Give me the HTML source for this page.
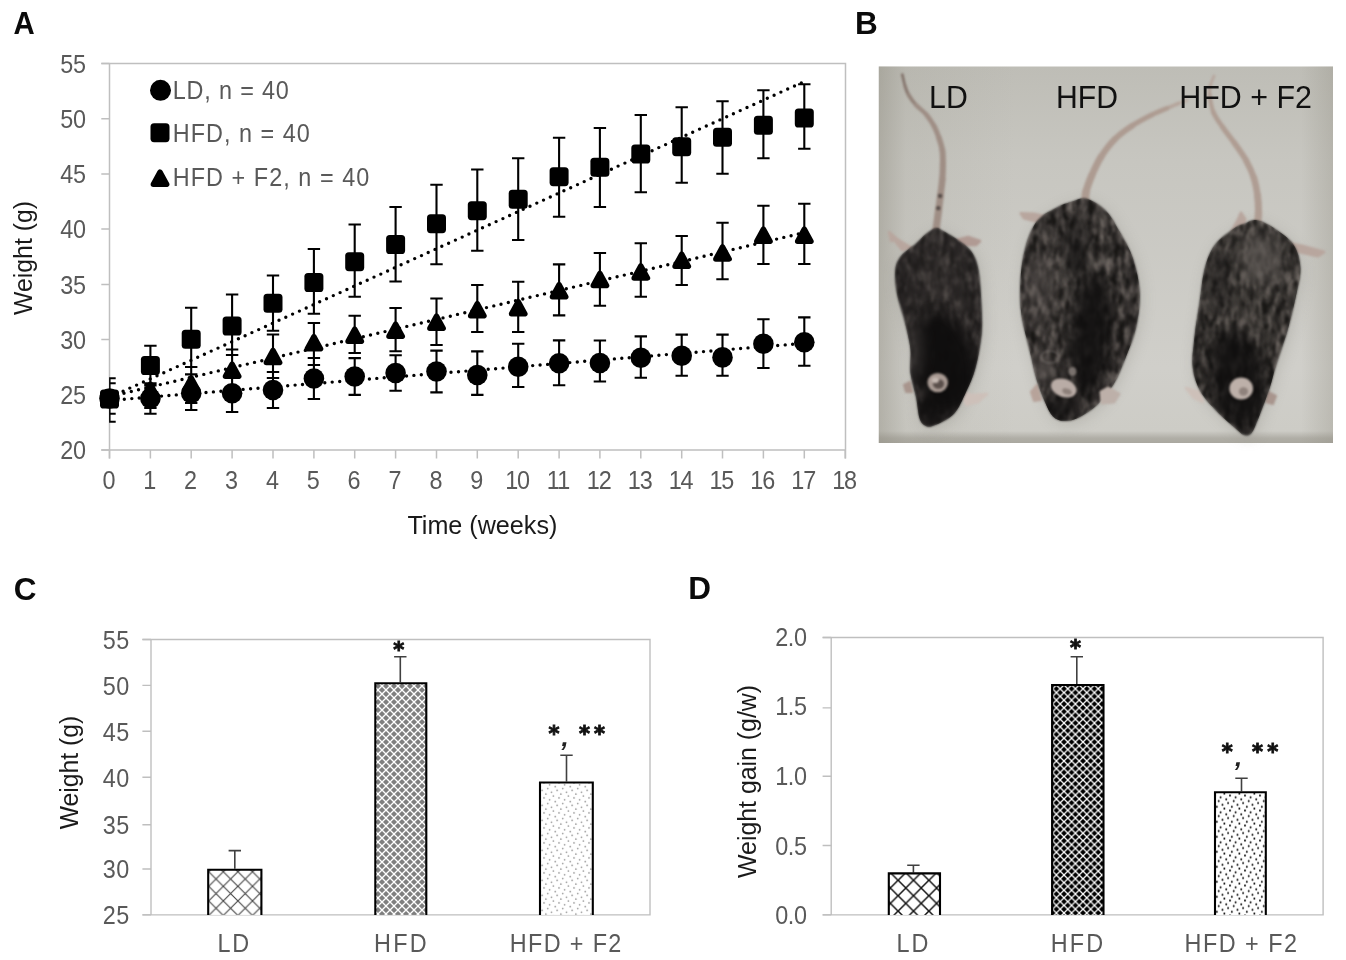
<!DOCTYPE html>
<html lang="en"><head><meta charset="utf-8"><title>Figure</title>
<style>html,body{margin:0;padding:0;background:#fff}svg{display:block}text{font-family:"Liberation Sans", Arial, sans-serif}</style>
</head><body>
<svg width="1346" height="960" viewBox="0 0 1346 960">
<rect width="1346" height="960" fill="#fff"/>
<defs>
<pattern id="pX" width="14.6" height="14.6" patternUnits="userSpaceOnUse" x="4.3" y="10.3"><rect width="14.6" height="14.6" fill="#fff"/><path d="M-1 -1L15.6 15.6M-1 15.6L15.6 -1" stroke="#444" stroke-width="1.1"/></pattern>
<pattern id="pX2" width="15.4" height="15.4" patternUnits="userSpaceOnUse" x="4.9" y="2.5"><rect width="15.4" height="15.4" fill="#fff"/><path d="M-1 -1L16.4 16.4M-1 16.4L16.4 -1" stroke="#111" stroke-width="1.5"/></pattern>
<pattern id="pG" width="8" height="8" patternUnits="userSpaceOnUse" x="2" y="2"><rect width="8" height="8" fill="#7f7f7f"/><path d="M-1 -1L9 9M-1 9L9 -1" stroke="#fff" stroke-width="1.35"/></pattern>
<pattern id="pK" width="7.6" height="7.6" patternUnits="userSpaceOnUse" x="0" y="1"><rect width="7.6" height="7.6" fill="#000"/><path d="M-1 -1L8.6 8.6M-1 8.6L8.6 -1" stroke="#fff" stroke-width="1.3"/></pattern>
<pattern id="pD" width="15" height="15" patternUnits="userSpaceOnUse" x="3.1" y="1.9"><rect width="15" height="15" fill="#fff"/><g fill="#9d9d9d"><circle cx="0.94" cy="0.94" r="0.85"/><circle cx="6.56" cy="2.81" r="0.85"/><circle cx="12.19" cy="4.69" r="0.85"/><circle cx="4.69" cy="6.56" r="0.85"/><circle cx="14.06" cy="8.44" r="0.85"/><circle cx="8.44" cy="10.31" r="0.85"/><circle cx="2.81" cy="12.19" r="0.85"/><circle cx="10.31" cy="14.06" r="0.85"/></g></pattern>
<pattern id="pDk" width="15" height="15" patternUnits="userSpaceOnUse" x="14.06" y="14.56"><rect width="15" height="15" fill="#fff"/><g fill="#0a0a0a"><circle cx="0.94" cy="0.94" r="1.0"/><circle cx="6.56" cy="2.81" r="1.0"/><circle cx="12.19" cy="4.69" r="1.0"/><circle cx="4.69" cy="6.56" r="1.0"/><circle cx="14.06" cy="8.44" r="1.0"/><circle cx="8.44" cy="10.31" r="1.0"/><circle cx="2.81" cy="12.19" r="1.0"/><circle cx="10.31" cy="14.06" r="1.0"/></g></pattern>
</defs>
<text x="13.4" y="34.1" font-size="31.5" fill="#0a0a0a" font-weight="bold" textLength="21.2" lengthAdjust="spacingAndGlyphs">A</text>
<text x="855.1" y="34.3" font-size="31.5" fill="#0a0a0a" font-weight="bold">B</text>
<text x="13.7" y="600.3" font-size="31.5" fill="#0a0a0a" font-weight="bold">C</text>
<text x="688.2" y="598.9" font-size="31.5" fill="#0a0a0a" font-weight="bold">D</text>
<g id="panelA">
<path d="M101.3 63.5H845.5V458.5" fill="none" stroke="#bfbfbf" stroke-width="1.5"/>
<path d="M109.5 63.5V458.5M101.3 450.0H845.5" fill="none" stroke="#bfbfbf" stroke-width="1.5"/>
<text transform="translate(86.1 459.2) scale(0.9 1)" font-size="26" fill="#595959" text-anchor="end" textLength="28.8" lengthAdjust="spacing">20</text>
<text transform="translate(86.1 404.0) scale(0.9 1)" font-size="26" fill="#595959" text-anchor="end" textLength="28.8" lengthAdjust="spacing">25</text>
<text transform="translate(86.1 348.8) scale(0.9 1)" font-size="26" fill="#595959" text-anchor="end" textLength="28.8" lengthAdjust="spacing">30</text>
<text transform="translate(86.1 293.6) scale(0.9 1)" font-size="26" fill="#595959" text-anchor="end" textLength="28.8" lengthAdjust="spacing">35</text>
<text transform="translate(86.1 238.3) scale(0.9 1)" font-size="26" fill="#595959" text-anchor="end" textLength="28.8" lengthAdjust="spacing">40</text>
<text transform="translate(86.1 183.1) scale(0.9 1)" font-size="26" fill="#595959" text-anchor="end" textLength="28.8" lengthAdjust="spacing">45</text>
<text transform="translate(86.1 127.9) scale(0.9 1)" font-size="26" fill="#595959" text-anchor="end" textLength="28.8" lengthAdjust="spacing">50</text>
<text transform="translate(86.1 72.7) scale(0.9 1)" font-size="26" fill="#595959" text-anchor="end" textLength="28.8" lengthAdjust="spacing">55</text>
<text transform="translate(108.9 488.7) scale(0.9 1)" font-size="26" fill="#595959" text-anchor="middle">0</text>
<text transform="translate(149.8 488.7) scale(0.9 1)" font-size="26" fill="#595959" text-anchor="middle">1</text>
<text transform="translate(190.6 488.7) scale(0.9 1)" font-size="26" fill="#595959" text-anchor="middle">2</text>
<text transform="translate(231.5 488.7) scale(0.9 1)" font-size="26" fill="#595959" text-anchor="middle">3</text>
<text transform="translate(272.4 488.7) scale(0.9 1)" font-size="26" fill="#595959" text-anchor="middle">4</text>
<text transform="translate(313.2 488.7) scale(0.9 1)" font-size="26" fill="#595959" text-anchor="middle">5</text>
<text transform="translate(354.1 488.7) scale(0.9 1)" font-size="26" fill="#595959" text-anchor="middle">6</text>
<text transform="translate(395.0 488.7) scale(0.9 1)" font-size="26" fill="#595959" text-anchor="middle">7</text>
<text transform="translate(435.9 488.7) scale(0.9 1)" font-size="26" fill="#595959" text-anchor="middle">8</text>
<text transform="translate(476.7 488.7) scale(0.9 1)" font-size="26" fill="#595959" text-anchor="middle">9</text>
<text transform="translate(517.6 488.7) scale(0.9 1)" font-size="26" fill="#595959" text-anchor="middle" textLength="27.7" lengthAdjust="spacing">10</text>
<text transform="translate(558.5 488.7) scale(0.9 1)" font-size="26" fill="#595959" text-anchor="middle" textLength="25.9" lengthAdjust="spacing">11</text>
<text transform="translate(599.3 488.7) scale(0.9 1)" font-size="26" fill="#595959" text-anchor="middle" textLength="27.7" lengthAdjust="spacing">12</text>
<text transform="translate(640.2 488.7) scale(0.9 1)" font-size="26" fill="#595959" text-anchor="middle" textLength="27.7" lengthAdjust="spacing">13</text>
<text transform="translate(681.1 488.7) scale(0.9 1)" font-size="26" fill="#595959" text-anchor="middle" textLength="27.7" lengthAdjust="spacing">14</text>
<text transform="translate(721.9 488.7) scale(0.9 1)" font-size="26" fill="#595959" text-anchor="middle" textLength="27.7" lengthAdjust="spacing">15</text>
<text transform="translate(762.8 488.7) scale(0.9 1)" font-size="26" fill="#595959" text-anchor="middle" textLength="27.7" lengthAdjust="spacing">16</text>
<text transform="translate(803.7 488.7) scale(0.9 1)" font-size="26" fill="#595959" text-anchor="middle" textLength="27.7" lengthAdjust="spacing">17</text>
<text transform="translate(844.6 488.7) scale(0.9 1)" font-size="26" fill="#595959" text-anchor="middle" textLength="27.7" lengthAdjust="spacing">18</text>
<path d="M101.3 450.0H109.5M101.3 394.8H109.5M101.3 339.6H109.5M101.3 284.4H109.5M101.3 229.1H109.5M101.3 173.9H109.5M101.3 118.7H109.5M101.3 63.5H109.5M109.5 450.0V458.5M150.4 450.0V458.5M191.2 450.0V458.5M232.1 450.0V458.5M273.0 450.0V458.5M313.9 450.0V458.5M354.7 450.0V458.5M395.6 450.0V458.5M436.5 450.0V458.5M477.3 450.0V458.5M518.2 450.0V458.5M559.1 450.0V458.5M599.9 450.0V458.5M640.8 450.0V458.5M681.7 450.0V458.5M722.5 450.0V458.5M763.4 450.0V458.5M804.3 450.0V458.5M845.2 450.0V458.5" fill="none" stroke="#bfbfbf" stroke-width="1.5"/>
<text x="482.4" y="534.3" font-size="26" fill="#1a1a1a" text-anchor="middle" textLength="150" lengthAdjust="spacingAndGlyphs">Time (weeks)</text>
<text transform="translate(32.4,258) rotate(-90)" font-size="26" fill="#1a1a1a" text-anchor="middle" textLength="114" lengthAdjust="spacingAndGlyphs">Weight (g)</text>
<circle cx="160.5" cy="90.3" r="10.5" fill="#000"/>
<rect x="150.5" y="123.2" width="19" height="19" rx="3.6" fill="#000"/>
<path d="M160.0 172.1L166.7 184.3H153.3Z" fill="#000" stroke="#000" stroke-width="5.4" stroke-linejoin="round"/>
<text transform="translate(172.8 98.9) scale(0.9 1)" font-size="26" fill="#595959" textLength="128.9" lengthAdjust="spacing">LD, n = 40</text>
<text transform="translate(172.8 142.2) scale(0.9 1)" font-size="26" fill="#595959" textLength="152.2" lengthAdjust="spacing">HFD, n = 40</text>
<text transform="translate(172.8 185.9) scale(0.9 1)" font-size="26" fill="#595959" textLength="218.3" lengthAdjust="spacing">HFD + F2, n = 40</text>
<path d="M109.5 400.4h0M116.9 399.8h0M124.3 399.2h0M131.8 398.6h0M139.2 398.0h0M146.6 397.3h0M154.0 396.7h0M161.5 396.1h0M168.9 395.5h0M176.3 394.9h0M183.7 394.3h0M191.2 393.7h0M198.6 393.1h0M206.0 392.5h0M213.4 391.9h0M220.9 391.2h0M228.3 390.6h0M235.7 390.0h0M243.1 389.4h0M250.6 388.8h0M258.0 388.2h0M265.4 387.6h0M272.8 387.0h0M280.3 386.4h0M287.7 385.8h0M295.1 385.1h0M302.5 384.5h0M310.0 383.9h0M317.4 383.3h0M324.8 382.7h0M332.2 382.1h0M339.7 381.5h0M347.1 380.9h0M354.5 380.3h0M361.9 379.7h0M369.4 379.0h0M376.8 378.4h0M384.2 377.8h0M391.6 377.2h0M399.1 376.6h0M406.5 376.0h0M413.9 375.4h0M421.3 374.8h0M428.8 374.2h0M436.2 373.6h0M443.6 372.9h0M451.0 372.3h0M458.5 371.7h0M465.9 371.1h0M473.3 370.5h0M480.7 369.9h0M488.2 369.3h0M495.6 368.7h0M503.0 368.1h0M510.4 367.4h0M517.9 366.8h0M525.3 366.2h0M532.7 365.6h0M540.1 365.0h0M547.6 364.4h0M555.0 363.8h0M562.4 363.2h0M569.8 362.6h0M577.3 362.0h0M584.7 361.3h0M592.1 360.7h0M599.5 360.1h0M607.0 359.5h0M614.4 358.9h0M621.8 358.3h0M629.2 357.7h0M636.7 357.1h0M644.1 356.5h0M651.5 355.9h0M658.9 355.2h0M666.4 354.6h0M673.8 354.0h0M681.2 353.4h0M688.6 352.8h0M696.1 352.2h0M703.5 351.6h0M710.9 351.0h0M718.3 350.4h0M725.8 349.8h0M733.2 349.1h0M740.6 348.5h0M748.0 347.9h0M755.5 347.3h0M762.9 346.7h0M770.3 346.1h0M777.7 345.5h0M785.2 344.9h0M792.6 344.3h0M800.0 343.7h0" fill="none" stroke="#000" stroke-width="3.4" stroke-linecap="round"/>
<path d="M109.5 397.4h0M116.3 394.3h0M123.1 391.2h0M129.8 388.1h0M136.6 385.1h0M143.4 382.0h0M150.2 378.9h0M157.0 375.8h0M163.8 372.7h0M170.5 369.6h0M177.3 366.6h0M184.1 363.5h0M190.9 360.4h0M197.7 357.3h0M204.4 354.2h0M211.2 351.1h0M218.0 348.1h0M224.8 345.0h0M231.6 341.9h0M238.4 338.8h0M245.1 335.7h0M251.9 332.6h0M258.7 329.6h0M265.5 326.5h0M272.3 323.4h0M279.0 320.3h0M285.8 317.2h0M292.6 314.1h0M299.4 311.1h0M306.2 308.0h0M313.0 304.9h0M319.7 301.8h0M326.5 298.7h0M333.3 295.6h0M340.1 292.6h0M346.9 289.5h0M353.6 286.4h0M360.4 283.3h0M367.2 280.2h0M374.0 277.1h0M380.8 274.1h0M387.6 271.0h0M394.3 267.9h0M401.1 264.8h0M407.9 261.7h0M414.7 258.6h0M421.5 255.6h0M428.2 252.5h0M435.0 249.4h0M441.8 246.3h0M448.6 243.2h0M455.4 240.1h0M462.2 237.1h0M468.9 234.0h0M475.7 230.9h0M482.5 227.8h0M489.3 224.7h0M496.1 221.6h0M502.9 218.6h0M509.6 215.5h0M516.4 212.4h0M523.2 209.3h0M530.0 206.2h0M536.8 203.1h0M543.5 200.1h0M550.3 197.0h0M557.1 193.9h0M563.9 190.8h0M570.7 187.7h0M577.5 184.6h0M584.2 181.6h0M591.0 178.5h0M597.8 175.4h0M604.6 172.3h0M611.4 169.2h0M618.1 166.1h0M624.9 163.1h0M631.7 160.0h0M638.5 156.9h0M645.3 153.8h0M652.1 150.7h0M658.8 147.6h0M665.6 144.6h0M672.4 141.5h0M679.2 138.4h0M686.0 135.3h0M692.7 132.2h0M699.5 129.1h0M706.3 126.0h0M713.1 123.0h0M719.9 119.9h0M726.7 116.8h0M733.4 113.7h0M740.2 110.6h0M747.0 107.5h0M753.8 104.5h0M760.6 101.4h0M767.3 98.3h0M774.1 95.2h0M780.9 92.1h0M787.7 89.0h0M794.5 86.0h0M801.3 82.9h0" fill="none" stroke="#000" stroke-width="3.4" stroke-linecap="round"/>
<path d="M109.5 396.6h0M116.8 394.9h0M124.0 393.2h0M131.3 391.5h0M138.5 389.8h0M145.8 388.0h0M153.0 386.3h0M160.3 384.6h0M167.5 382.9h0M174.8 381.2h0M182.0 379.5h0M189.3 377.8h0M196.5 376.1h0M203.8 374.4h0M211.0 372.6h0M218.3 370.9h0M225.5 369.2h0M232.8 367.5h0M240.0 365.8h0M247.3 364.1h0M254.5 362.4h0M261.8 360.7h0M269.0 358.9h0M276.3 357.2h0M283.5 355.5h0M290.8 353.8h0M298.0 352.1h0M305.3 350.4h0M312.5 348.7h0M319.8 347.0h0M327.0 345.3h0M334.3 343.5h0M341.5 341.8h0M348.8 340.1h0M356.0 338.4h0M363.3 336.7h0M370.5 335.0h0M377.8 333.3h0M385.0 331.6h0M392.3 329.9h0M399.5 328.1h0M406.8 326.4h0M414.0 324.7h0M421.3 323.0h0M428.5 321.3h0M435.8 319.6h0M443.0 317.9h0M450.3 316.2h0M457.5 314.4h0M464.8 312.7h0M472.0 311.0h0M479.3 309.3h0M486.5 307.6h0M493.8 305.9h0M501.0 304.2h0M508.3 302.5h0M515.5 300.8h0M522.8 299.0h0M530.0 297.3h0M537.3 295.6h0M544.5 293.9h0M551.8 292.2h0M559.0 290.5h0M566.3 288.8h0M573.5 287.1h0M580.8 285.4h0M588.0 283.6h0M595.3 281.9h0M602.6 280.2h0M609.8 278.5h0M617.1 276.8h0M624.3 275.1h0M631.6 273.4h0M638.8 271.7h0M646.1 270.0h0M653.3 268.2h0M660.6 266.5h0M667.8 264.8h0M675.1 263.1h0M682.3 261.4h0M689.6 259.7h0M696.8 258.0h0M704.1 256.3h0M711.3 254.5h0M718.6 252.8h0M725.8 251.1h0M733.1 249.4h0M740.3 247.7h0M747.6 246.0h0M754.8 244.3h0M762.1 242.6h0M769.3 240.9h0M776.6 239.1h0M783.8 237.4h0M791.1 235.7h0M798.3 234.0h0" fill="none" stroke="#000" stroke-width="3.4" stroke-linecap="round"/>
<clipPath id="clipA"><rect x="109.1" y="63.5" width="736.0" height="386.5"/></clipPath>
<path d="M109.5 383.2V413.8M103.3 383.2h12.4M103.3 413.8h12.4M150.4 383.25V413.75M144.2 383.25h12.4M144.2 413.75h12.4M191.2 374.4V410M185.0 374.4h12.4M185.0 410h12.4M232.1 374.5V412M225.9 374.5h12.4M225.9 412h12.4M273.0 372V408M266.8 372h12.4M266.8 408h12.4M313.9 358V399M307.7 358h12.4M307.7 399h12.4M354.7 358.1V394.9M348.5 358.1h12.4M348.5 394.9h12.4M395.6 355.3V390.7M389.4 355.3h12.4M389.4 390.7h12.4M436.5 350.6V392.4M430.3 350.6h12.4M430.3 392.4h12.4M477.3 351.4V394.9M471.1 351.4h12.4M471.1 394.9h12.4M518.2 343.75V387M512.0 343.75h12.4M512.0 387h12.4M559.1 340.4V385.3M552.9 340.4h12.4M552.9 385.3h12.4M599.9 340.5V381.5M593.7 340.5h12.4M593.7 381.5h12.4M640.8 336.4V377.8M634.6 336.4h12.4M634.6 377.8h12.4M681.7 334.6V375.7M675.5 334.6h12.4M675.5 375.7h12.4M722.5 334.6V375.7M716.3 334.6h12.4M716.3 375.7h12.4M763.4 319.2V368M757.2 319.2h12.4M757.2 368h12.4M804.3 317.4V365.8M798.1 317.4h12.4M798.1 365.8h12.4M109.5 378.2V421.8M103.3 378.2h12.4M103.3 421.8h12.4M150.4 345.75V385.4M144.2 345.75h12.4M144.2 385.4h12.4M191.2 307.75V367M185.0 307.75h12.4M185.0 367h12.4M232.1 294.5V355M225.9 294.5h12.4M225.9 355h12.4M273.0 275.5V330.8M266.8 275.5h12.4M266.8 330.8h12.4M313.9 249V313.75M307.7 249h12.4M307.7 313.75h12.4M354.7 224.5V296.75M348.5 224.5h12.4M348.5 296.75h12.4M395.6 207V281.5M389.4 207h12.4M389.4 281.5h12.4M436.5 184.75V264.25M430.3 184.75h12.4M430.3 264.25h12.4M477.3 169.5V250.75M471.1 169.5h12.4M471.1 250.75h12.4M518.2 158.25V240M512.0 158.25h12.4M512.0 240h12.4M559.1 137.7V216.7M552.9 137.7h12.4M552.9 216.7h12.4M599.9 128V207M593.7 128h12.4M593.7 207h12.4M640.8 115V192.3M634.6 115h12.4M634.6 192.3h12.4M681.7 107.3V182.7M675.5 107.3h12.4M675.5 182.7h12.4M722.5 101.3V173.7M716.3 101.3h12.4M716.3 173.7h12.4M763.4 90.3V158.3M757.2 90.3h12.4M757.2 158.3h12.4M804.3 84.3V148.7M798.1 84.3h12.4M798.1 148.7h12.4M109.5 383.2V413.8M103.3 383.2h12.4M103.3 413.8h12.4M150.4 372V408M144.2 372h12.4M144.2 408h12.4M191.2 367V403M185.0 367h12.4M185.0 403h12.4M232.1 349.5V390.5M225.9 349.5h12.4M225.9 390.5h12.4M273.0 334.5V378M266.8 334.5h12.4M266.8 378h12.4M313.9 323V365M307.7 323h12.4M307.7 365h12.4M354.7 315.75V353M348.5 315.75h12.4M348.5 353h12.4M395.6 308V351.25M389.4 308h12.4M389.4 351.25h12.4M436.5 298.5V345M430.3 298.5h12.4M430.3 345h12.4M477.3 285V332M471.1 285h12.4M471.1 332h12.4M518.2 281.75V332M512.0 281.75h12.4M512.0 332h12.4M559.1 264.4V315.4M552.9 264.4h12.4M552.9 315.4h12.4M599.9 253V305.7M593.7 253h12.4M593.7 305.7h12.4M640.8 243.3V296.7M634.6 243.3h12.4M634.6 296.7h12.4M681.7 236V285M675.5 236h12.4M675.5 285h12.4M722.5 222.7V279.3M716.3 222.7h12.4M716.3 279.3h12.4M763.4 205.7V264M757.2 205.7h12.4M757.2 264h12.4M804.3 203.7V264M798.1 203.7h12.4M798.1 264h12.4" fill="none" stroke="#000" stroke-width="2.1" clip-path="url(#clipA)"/>
<circle cx="109.5" cy="398.5" r="10.3" fill="#000"/>
<circle cx="150.4" cy="398.5" r="10.3" fill="#000"/>
<circle cx="191.2" cy="393.25" r="10.3" fill="#000"/>
<circle cx="232.1" cy="393.25" r="10.3" fill="#000"/>
<circle cx="273.0" cy="390" r="10.3" fill="#000"/>
<circle cx="313.9" cy="378.5" r="10.3" fill="#000"/>
<circle cx="354.7" cy="376.5" r="10.3" fill="#000"/>
<circle cx="395.6" cy="373" r="10.3" fill="#000"/>
<circle cx="436.5" cy="371.5" r="10.3" fill="#000"/>
<circle cx="477.3" cy="375" r="10.3" fill="#000"/>
<circle cx="518.2" cy="366.8" r="10.3" fill="#000"/>
<circle cx="559.1" cy="363.3" r="10.3" fill="#000"/>
<circle cx="599.9" cy="363" r="10.3" fill="#000"/>
<circle cx="640.8" cy="357.8" r="10.3" fill="#000"/>
<circle cx="681.7" cy="355.7" r="10.3" fill="#000"/>
<circle cx="722.5" cy="357.4" r="10.3" fill="#000"/>
<circle cx="763.4" cy="343.8" r="10.3" fill="#000"/>
<circle cx="804.3" cy="342.3" r="10.3" fill="#000"/>
<rect x="100.0" y="389.5" width="19" height="19" rx="3.6" fill="#000"/>
<rect x="140.9" y="356.0" width="19" height="19" rx="3.6" fill="#000"/>
<rect x="181.7" y="329.8" width="19" height="19" rx="3.6" fill="#000"/>
<rect x="222.6" y="316.5" width="19" height="19" rx="3.6" fill="#000"/>
<rect x="263.5" y="293.8" width="19" height="19" rx="3.6" fill="#000"/>
<rect x="304.4" y="273.0" width="19" height="19" rx="3.6" fill="#000"/>
<rect x="345.2" y="252.2" width="19" height="19" rx="3.6" fill="#000"/>
<rect x="386.1" y="235.0" width="19" height="19" rx="3.6" fill="#000"/>
<rect x="427.0" y="214.2" width="19" height="19" rx="3.6" fill="#000"/>
<rect x="467.8" y="201.2" width="19" height="19" rx="3.6" fill="#000"/>
<rect x="508.7" y="189.8" width="19" height="19" rx="3.6" fill="#000"/>
<rect x="549.6" y="167.2" width="19" height="19" rx="3.6" fill="#000"/>
<rect x="590.4" y="157.8" width="19" height="19" rx="3.6" fill="#000"/>
<rect x="631.3" y="144.5" width="19" height="19" rx="3.6" fill="#000"/>
<rect x="672.2" y="137.2" width="19" height="19" rx="3.6" fill="#000"/>
<rect x="713.0" y="127.8" width="19" height="19" rx="3.6" fill="#000"/>
<rect x="753.9" y="115.8" width="19" height="19" rx="3.6" fill="#000"/>
<rect x="794.8" y="108.5" width="19" height="19" rx="3.6" fill="#000"/>
<path d="M109.5 392.1L116.2 404.3H102.8Z" fill="#000" stroke="#000" stroke-width="5.4" stroke-linejoin="round"/>
<path d="M150.4 384.1L157.1 396.3H143.7Z" fill="#000" stroke="#000" stroke-width="5.4" stroke-linejoin="round"/>
<path d="M191.2 377.9L197.9 390.1H184.5Z" fill="#000" stroke="#000" stroke-width="5.4" stroke-linejoin="round"/>
<path d="M232.1 364.1L238.8 376.3H225.4Z" fill="#000" stroke="#000" stroke-width="5.4" stroke-linejoin="round"/>
<path d="M273.0 350.4L279.7 362.6H266.3Z" fill="#000" stroke="#000" stroke-width="5.4" stroke-linejoin="round"/>
<path d="M313.9 336.6L320.6 348.8H307.2Z" fill="#000" stroke="#000" stroke-width="5.4" stroke-linejoin="round"/>
<path d="M354.7 329.1L361.4 341.3H348.0Z" fill="#000" stroke="#000" stroke-width="5.4" stroke-linejoin="round"/>
<path d="M395.6 324.1L402.3 336.3H388.9Z" fill="#000" stroke="#000" stroke-width="5.4" stroke-linejoin="round"/>
<path d="M436.5 316.1L443.2 328.3H429.8Z" fill="#000" stroke="#000" stroke-width="5.4" stroke-linejoin="round"/>
<path d="M477.3 303.6L484.0 315.8H470.6Z" fill="#000" stroke="#000" stroke-width="5.4" stroke-linejoin="round"/>
<path d="M518.2 301.6L524.9 313.8H511.5Z" fill="#000" stroke="#000" stroke-width="5.4" stroke-linejoin="round"/>
<path d="M559.1 284.6L565.8 296.8H552.4Z" fill="#000" stroke="#000" stroke-width="5.4" stroke-linejoin="round"/>
<path d="M599.9 273.4L606.6 285.6H593.2Z" fill="#000" stroke="#000" stroke-width="5.4" stroke-linejoin="round"/>
<path d="M640.8 265.8L647.5 278.0H634.1Z" fill="#000" stroke="#000" stroke-width="5.4" stroke-linejoin="round"/>
<path d="M681.7 254.1L688.4 266.3H675.0Z" fill="#000" stroke="#000" stroke-width="5.4" stroke-linejoin="round"/>
<path d="M722.5 246.8L729.2 259.0H715.8Z" fill="#000" stroke="#000" stroke-width="5.4" stroke-linejoin="round"/>
<path d="M763.4 229.1L770.1 241.3H756.7Z" fill="#000" stroke="#000" stroke-width="5.4" stroke-linejoin="round"/>
<path d="M804.3 229.1L811.0 241.3H797.6Z" fill="#000" stroke="#000" stroke-width="5.4" stroke-linejoin="round"/>
</g>
<g id="panelB">
<defs>
<linearGradient id="bgv" x1="0" y1="0" x2="0" y2="1"><stop offset="0" stop-color="#bebdb6"/><stop offset="0.25" stop-color="#c7c6c0"/><stop offset="0.8" stop-color="#d0cfca"/><stop offset="0.968" stop-color="#cdccc6"/><stop offset="0.987" stop-color="#b0aea6"/><stop offset="1" stop-color="#aaa8a0"/></linearGradient>
<linearGradient id="bgh" x1="0" y1="0" x2="1" y2="0"><stop offset="0" stop-color="#8f8c80" stop-opacity="0.45"/><stop offset="0.06" stop-color="#8f8c80" stop-opacity="0.12"/><stop offset="0.3" stop-color="#8f8c80" stop-opacity="0"/><stop offset="0.93" stop-color="#8f8c80" stop-opacity="0"/><stop offset="1" stop-color="#8f8c80" stop-opacity="0.3"/></linearGradient>
<filter id="soft" color-interpolation-filters="sRGB" x="-10%" y="-10%" width="120%" height="120%"><feGaussianBlur stdDeviation="0.9"/></filter>
<filter id="soft2" color-interpolation-filters="sRGB" x="-10%" y="-10%" width="120%" height="120%"><feGaussianBlur stdDeviation="1.6"/></filter>
<filter id="soft5" color-interpolation-filters="sRGB" x="-30%" y="-30%" width="160%" height="160%"><feGaussianBlur stdDeviation="7"/></filter>
<filter id="fur" x="0" y="0" width="100%" height="100%" color-interpolation-filters="sRGB"><feTurbulence type="fractalNoise" baseFrequency="0.16 0.07" numOctaves="3" seed="7" result="n"/><feColorMatrix in="n" type="matrix" values="0 0 0 0 0.47  0 0 0 0 0.44  0 0 0 0 0.42  2.6 0 0 0 -1.05" result="l"/><feColorMatrix in="n" type="matrix" values="0 0 0 0 0.07  0 0 0 0 0.065  0 0 0 0 0.06  0 2.8 0 0 -1.1" result="d"/><feMerge><feMergeNode in="l"/><feMergeNode in="d"/></feMerge><feGaussianBlur stdDeviation="0.8"/></filter>
<clipPath id="cLD"><path d="M936.0 228.0C933.2 228.5 929.4 231.4 926.0 234.0C922.6 236.6 919.9 240.0 915.7 243.7C911.5 247.4 904.4 251.6 901.0 256.0C897.6 260.4 896.0 263.7 895.3 270.0C894.6 276.3 895.4 285.2 897.0 294.0C898.6 302.8 902.8 313.5 905.0 322.7C907.2 331.9 909.6 340.6 910.5 349.0C911.4 357.4 909.6 365.0 910.5 373.0C911.4 381.0 914.5 389.5 916.0 397.0C917.5 404.5 918.0 413.2 919.5 418.0C921.0 422.8 922.6 424.2 925.0 425.5C927.4 426.8 929.2 427.5 934.0 425.5C938.8 423.5 948.7 419.3 954.0 413.7C959.3 408.1 962.4 399.6 966.0 392.0C969.6 384.4 972.9 377.6 975.5 368.0C978.1 358.4 980.5 345.0 981.5 334.7C982.5 324.4 982.0 316.8 981.5 306.0C981.0 295.2 980.2 279.2 978.5 270.0C976.8 260.8 974.9 256.3 971.0 251.0C967.1 245.7 959.7 241.3 955.0 238.0C950.3 234.7 946.2 232.7 943.0 231.0C939.8 229.3 938.8 227.5 936.0 228.0Z"/></clipPath>
<clipPath id="cHFD"><path d="M1086.0 198.5C1080.2 197.1 1075.7 200.6 1071.0 202.0C1066.3 203.4 1063.3 203.9 1057.7 207.0C1052.1 210.1 1042.6 214.0 1037.2 220.8C1031.8 227.6 1028.0 237.8 1025.2 248.0C1022.4 258.2 1020.9 270.8 1020.3 282.0C1019.7 293.2 1020.0 303.7 1021.5 315.0C1023.0 326.3 1026.9 338.9 1029.5 350.0C1032.1 361.1 1034.6 372.7 1037.2 381.4C1039.8 390.1 1042.4 396.1 1045.0 402.0C1047.6 407.9 1049.8 413.3 1053.0 416.5C1056.2 419.7 1059.7 420.8 1064.0 421.0C1068.3 421.2 1073.5 420.2 1079.0 417.5C1084.5 414.8 1091.5 410.2 1097.2 404.8C1102.9 399.4 1108.5 392.8 1113.3 384.8C1118.1 376.8 1122.2 366.4 1126.0 356.7C1129.8 347.0 1134.0 337.4 1136.3 326.7C1138.6 316.0 1140.2 303.9 1139.7 292.5C1139.2 281.1 1136.4 268.6 1133.0 258.4C1129.6 248.1 1123.8 239.0 1119.2 231.0C1114.6 223.0 1111.1 215.9 1105.6 210.5C1100.1 205.1 1091.8 199.9 1086.0 198.5Z"/></clipPath>
<clipPath id="cF2"><path d="M1256.0 220.0C1251.3 219.3 1248.4 222.2 1245.0 223.5C1241.6 224.8 1240.4 224.1 1235.4 227.6C1230.4 231.1 1220.1 237.9 1215.0 244.7C1209.9 251.5 1207.3 258.9 1204.7 268.6C1202.1 278.3 1201.2 291.4 1199.5 302.8C1197.8 314.2 1195.5 326.2 1194.4 337.0C1193.3 347.8 1191.7 358.6 1192.7 367.7C1193.7 376.8 1196.5 384.3 1200.5 391.6C1204.5 398.9 1211.4 405.6 1217.0 411.5C1222.6 417.4 1229.5 423.1 1234.0 427.0C1238.5 430.9 1241.1 434.0 1244.0 435.0C1246.9 436.0 1249.1 435.8 1251.5 433.0C1253.9 430.2 1255.5 425.5 1258.5 418.0C1261.5 410.5 1266.6 397.1 1269.6 388.2C1272.6 379.2 1273.6 373.4 1276.4 364.3C1279.2 355.2 1283.6 344.3 1286.7 333.5C1289.8 322.7 1292.9 310.2 1295.2 299.4C1297.5 288.6 1300.7 277.7 1300.4 268.6C1300.1 259.5 1298.1 251.5 1293.5 244.7C1288.9 237.9 1279.2 231.7 1273.0 227.6C1266.8 223.5 1260.7 220.7 1256.0 220.0Z"/></clipPath>
<radialGradient id="gLD" cx="0.5" cy="0.3" r="0.6"><stop offset="0" stop-color="#322e2d"/><stop offset="1" stop-color="#242121"/></radialGradient>
<radialGradient id="gHFD" cx="0.45" cy="0.35" r="0.65"><stop offset="0" stop-color="#45413e"/><stop offset="1" stop-color="#302c2b"/></radialGradient>
<radialGradient id="gF2" cx="0.5" cy="0.3" r="0.65"><stop offset="0" stop-color="#47433f"/><stop offset="1" stop-color="#2e2b29"/></radialGradient>
</defs>
<rect x="878.8" y="66.5" width="454.2" height="376.5" fill="url(#bgv)"/>
<rect x="878.8" y="66.5" width="454.2" height="376.5" fill="url(#bgh)"/>
<g filter="url(#soft5)" opacity="0.35" fill="#8c8a82">
<path d="M936.0 228.0C933.2 228.5 929.4 231.4 926.0 234.0C922.6 236.6 919.9 240.0 915.7 243.7C911.5 247.4 904.4 251.6 901.0 256.0C897.6 260.4 896.0 263.7 895.3 270.0C894.6 276.3 895.4 285.2 897.0 294.0C898.6 302.8 902.8 313.5 905.0 322.7C907.2 331.9 909.6 340.6 910.5 349.0C911.4 357.4 909.6 365.0 910.5 373.0C911.4 381.0 914.5 389.5 916.0 397.0C917.5 404.5 918.0 413.2 919.5 418.0C921.0 422.8 922.6 424.2 925.0 425.5C927.4 426.8 929.2 427.5 934.0 425.5C938.8 423.5 948.7 419.3 954.0 413.7C959.3 408.1 962.4 399.6 966.0 392.0C969.6 384.4 972.9 377.6 975.5 368.0C978.1 358.4 980.5 345.0 981.5 334.7C982.5 324.4 982.0 316.8 981.5 306.0C981.0 295.2 980.2 279.2 978.5 270.0C976.8 260.8 974.9 256.3 971.0 251.0C967.1 245.7 959.7 241.3 955.0 238.0C950.3 234.7 946.2 232.7 943.0 231.0C939.8 229.3 938.8 227.5 936.0 228.0Z" transform="translate(2,3)"/>
<path d="M1086.0 198.5C1080.2 197.1 1075.7 200.6 1071.0 202.0C1066.3 203.4 1063.3 203.9 1057.7 207.0C1052.1 210.1 1042.6 214.0 1037.2 220.8C1031.8 227.6 1028.0 237.8 1025.2 248.0C1022.4 258.2 1020.9 270.8 1020.3 282.0C1019.7 293.2 1020.0 303.7 1021.5 315.0C1023.0 326.3 1026.9 338.9 1029.5 350.0C1032.1 361.1 1034.6 372.7 1037.2 381.4C1039.8 390.1 1042.4 396.1 1045.0 402.0C1047.6 407.9 1049.8 413.3 1053.0 416.5C1056.2 419.7 1059.7 420.8 1064.0 421.0C1068.3 421.2 1073.5 420.2 1079.0 417.5C1084.5 414.8 1091.5 410.2 1097.2 404.8C1102.9 399.4 1108.5 392.8 1113.3 384.8C1118.1 376.8 1122.2 366.4 1126.0 356.7C1129.8 347.0 1134.0 337.4 1136.3 326.7C1138.6 316.0 1140.2 303.9 1139.7 292.5C1139.2 281.1 1136.4 268.6 1133.0 258.4C1129.6 248.1 1123.8 239.0 1119.2 231.0C1114.6 223.0 1111.1 215.9 1105.6 210.5C1100.1 205.1 1091.8 199.9 1086.0 198.5Z" transform="translate(2,3)"/>
<path d="M1256.0 220.0C1251.3 219.3 1248.4 222.2 1245.0 223.5C1241.6 224.8 1240.4 224.1 1235.4 227.6C1230.4 231.1 1220.1 237.9 1215.0 244.7C1209.9 251.5 1207.3 258.9 1204.7 268.6C1202.1 278.3 1201.2 291.4 1199.5 302.8C1197.8 314.2 1195.5 326.2 1194.4 337.0C1193.3 347.8 1191.7 358.6 1192.7 367.7C1193.7 376.8 1196.5 384.3 1200.5 391.6C1204.5 398.9 1211.4 405.6 1217.0 411.5C1222.6 417.4 1229.5 423.1 1234.0 427.0C1238.5 430.9 1241.1 434.0 1244.0 435.0C1246.9 436.0 1249.1 435.8 1251.5 433.0C1253.9 430.2 1255.5 425.5 1258.5 418.0C1261.5 410.5 1266.6 397.1 1269.6 388.2C1272.6 379.2 1273.6 373.4 1276.4 364.3C1279.2 355.2 1283.6 344.3 1286.7 333.5C1289.8 322.7 1292.9 310.2 1295.2 299.4C1297.5 288.6 1300.7 277.7 1300.4 268.6C1300.1 259.5 1298.1 251.5 1293.5 244.7C1288.9 237.9 1279.2 231.7 1273.0 227.6C1266.8 223.5 1260.7 220.7 1256.0 220.0Z" transform="translate(2,3)"/>
</g>
<g filter="url(#soft)">
<path d="M902.3 74.6C902.8 76.5 904.0 82.6 905.0 86.0" stroke="#7f6f67" stroke-width="2.6" fill="none" stroke-linecap="round"/><path d="M905.0 86.0C906.0 89.4 906.7 91.6 908.5 94.8" stroke="#897971" stroke-width="3.3" fill="none" stroke-linecap="round"/><path d="M908.5 94.8C910.3 98.0 913.0 101.7 916.0 105.0" stroke="#93837a" stroke-width="3.8" fill="none" stroke-linecap="round"/><path d="M916.0 105.0C919.0 108.3 923.3 111.1 926.3 114.6" stroke="#9d8d84" stroke-width="4.3" fill="none" stroke-linecap="round"/><path d="M926.3 114.6C929.3 118.1 931.9 122.2 934.0 126.0" stroke="#9f8e85" stroke-width="4.7" fill="none" stroke-linecap="round"/><path d="M934.0 126.0C936.1 129.8 937.4 133.5 938.8 137.5" stroke="#9f8e85" stroke-width="5.1" fill="none" stroke-linecap="round"/><path d="M938.8 137.5C940.2 141.5 941.6 145.8 942.3 150.0" stroke="#9f8e85" stroke-width="5.5" fill="none" stroke-linecap="round"/><path d="M942.3 150.0C943.0 154.2 942.9 158.1 942.9 163.0" stroke="#9f8e85" stroke-width="5.9" fill="none" stroke-linecap="round"/><path d="M942.9 163.0C942.9 167.9 942.7 173.9 942.3 179.2" stroke="#9f8e85" stroke-width="6.2" fill="none" stroke-linecap="round"/><path d="M942.3 179.2C941.9 184.5 941.1 189.9 940.5 195.0" stroke="#9f8e85" stroke-width="6.6" fill="none" stroke-linecap="round"/><path d="M940.5 195.0C939.9 200.1 939.4 204.2 938.6 210.0" stroke="#9f8e85" stroke-width="6.9" fill="none" stroke-linecap="round"/><path d="M938.6 210.0C937.9 215.8 936.4 226.7 936.0 230.0" stroke="#9f8e85" stroke-width="7.2" fill="none" stroke-linecap="round"/>
<path d="M1187.0 100.5C1185.6 101.0 1181.8 102.2 1178.5 103.5" stroke="#bcaea5" stroke-width="3.1" fill="none" stroke-linecap="round"/><path d="M1178.5 103.5C1175.2 104.8 1171.4 106.4 1166.9 108.3" stroke="#b5a59c" stroke-width="4.0" fill="none" stroke-linecap="round"/><path d="M1166.9 108.3C1162.4 110.2 1157.3 112.1 1151.5 115.0" stroke="#ae9c92" stroke-width="4.7" fill="none" stroke-linecap="round"/><path d="M1151.5 115.0C1145.7 117.9 1138.3 121.7 1132.2 125.7" stroke="#ad9b91" stroke-width="5.3" fill="none" stroke-linecap="round"/><path d="M1132.2 125.7C1126.1 129.7 1120.0 134.0 1114.8 139.2" stroke="#ad9b91" stroke-width="5.8" fill="none" stroke-linecap="round"/><path d="M1114.8 139.2C1109.6 144.3 1105.1 150.5 1101.2 156.6" stroke="#ad9b91" stroke-width="6.4" fill="none" stroke-linecap="round"/><path d="M1101.2 156.6C1097.3 162.7 1094.1 170.0 1091.6 175.9" stroke="#ad9b91" stroke-width="6.9" fill="none" stroke-linecap="round"/><path d="M1091.6 175.9C1089.1 181.8 1087.0 187.8 1086.0 192.0" stroke="#ad9b91" stroke-width="7.3" fill="none" stroke-linecap="round"/><path d="M1086.0 192.0C1085.0 196.2 1085.6 199.5 1085.5 201.0" stroke="#ad9b91" stroke-width="7.8" fill="none" stroke-linecap="round"/>
<path d="M1214.0 76.0C1213.4 77.7 1210.9 82.9 1210.2 86.0" stroke="#b7a79e" stroke-width="2.9" fill="none" stroke-linecap="round"/><path d="M1210.2 86.0C1209.5 89.1 1209.1 90.5 1209.6 94.8" stroke="#b4a39a" stroke-width="3.6" fill="none" stroke-linecap="round"/><path d="M1209.6 94.8C1210.1 99.1 1211.1 106.6 1213.3 112.1" stroke="#b09f95" stroke-width="4.2" fill="none" stroke-linecap="round"/><path d="M1213.3 112.1C1215.5 117.6 1219.4 122.4 1222.9 127.6" stroke="#af9d93" stroke-width="4.8" fill="none" stroke-linecap="round"/><path d="M1222.9 127.6C1226.4 132.8 1230.6 137.6 1234.5 143.1" stroke="#af9d93" stroke-width="5.3" fill="none" stroke-linecap="round"/><path d="M1234.5 143.1C1238.4 148.6 1242.9 154.6 1246.1 160.4" stroke="#af9d93" stroke-width="5.8" fill="none" stroke-linecap="round"/><path d="M1246.1 160.4C1249.3 166.2 1251.9 172.0 1253.8 177.8" stroke="#af9d93" stroke-width="6.2" fill="none" stroke-linecap="round"/><path d="M1253.8 177.8C1255.7 183.6 1256.7 189.5 1257.5 195.2" stroke="#af9d93" stroke-width="6.6" fill="none" stroke-linecap="round"/><path d="M1257.5 195.2C1258.3 200.9 1258.5 207.4 1258.5 212.0" stroke="#af9d93" stroke-width="7.0" fill="none" stroke-linecap="round"/><path d="M1258.5 212.0C1258.5 216.6 1257.7 221.2 1257.5 223.0" stroke="#af9d93" stroke-width="7.4" fill="none" stroke-linecap="round"/>
<circle cx="940.1" cy="195.9" r="2.2" fill="#3f3836" opacity="0.8"/><circle cx="938.3" cy="208.1" r="2.2" fill="#3f3836" opacity="0.8"/>
<path d="M912 248L897 239L889 232L891 241L894 240L902 250Z" fill="#b8a69e" stroke="#b8a69e" stroke-width="2.5" stroke-linejoin="round"/>
<path d="M957 240L968 237L980 241L976 245L964 245Z" fill="#b09a93" stroke="#b09a93" stroke-width="2.5" stroke-linejoin="round"/>
<path d="M1047 217L1034 214L1021 213.5L1024 218L1040 222Z" fill="#b8a69e" stroke="#b8a69e" stroke-width="3" stroke-linejoin="round"/>
<path d="M1232 231L1238 220L1241 213L1245 219L1243 228Z" fill="#b8a69e" stroke="#b8a69e" stroke-width="3" stroke-linejoin="round"/>
<path d="M1287 243L1302 246L1324 252L1318 256L1300 252L1290 250Z" fill="#b8a69e" stroke="#b8a69e" stroke-width="3" stroke-linejoin="round"/>
<path d="M962 392L972 395L987 394L978 402L966 405Z" fill="#cdc0b9" stroke="#cdc0b9" stroke-width="2.5" stroke-linejoin="round"/>
<path d="M910 382L904 385L906 392L912 392Z" fill="#a8958d" stroke="#a8958d" stroke-width="2" stroke-linejoin="round"/>
<path d="M1037 385L1031 392L1034 401L1041 400Z" fill="#b7a39a" stroke="#b7a39a" stroke-width="2" stroke-linejoin="round"/>
<path d="M1200 392L1186 388L1194 398L1203 402Z" fill="#cdc0b9" stroke="#cdc0b9" stroke-width="2.5" stroke-linejoin="round"/>
<path d="M1268 392L1276 396L1273 404L1266 402Z" fill="#a8958d" stroke="#a8958d" stroke-width="2" stroke-linejoin="round"/>
</g>
<g filter="url(#soft)"><path d="M936.0 228.0C933.2 228.5 929.4 231.4 926.0 234.0C922.6 236.6 919.9 240.0 915.7 243.7C911.5 247.4 904.4 251.6 901.0 256.0C897.6 260.4 896.0 263.7 895.3 270.0C894.6 276.3 895.4 285.2 897.0 294.0C898.6 302.8 902.8 313.5 905.0 322.7C907.2 331.9 909.6 340.6 910.5 349.0C911.4 357.4 909.6 365.0 910.5 373.0C911.4 381.0 914.5 389.5 916.0 397.0C917.5 404.5 918.0 413.2 919.5 418.0C921.0 422.8 922.6 424.2 925.0 425.5C927.4 426.8 929.2 427.5 934.0 425.5C938.8 423.5 948.7 419.3 954.0 413.7C959.3 408.1 962.4 399.6 966.0 392.0C969.6 384.4 972.9 377.6 975.5 368.0C978.1 358.4 980.5 345.0 981.5 334.7C982.5 324.4 982.0 316.8 981.5 306.0C981.0 295.2 980.2 279.2 978.5 270.0C976.8 260.8 974.9 256.3 971.0 251.0C967.1 245.7 959.7 241.3 955.0 238.0C950.3 234.7 946.2 232.7 943.0 231.0C939.8 229.3 938.8 227.5 936.0 228.0Z" fill="url(#gLD)"/></g>
<g clip-path="url(#cLD)">
<rect x="891" y="224" width="94" height="206" filter="url(#fur)" opacity="0.45"/>
<g filter="url(#soft5)">
<ellipse cx="944" cy="362" rx="30" ry="52" fill="#0e0d0d" opacity="0.95" transform="rotate(-14 944 362)"/>
<ellipse cx="930" cy="410" rx="14" ry="16" fill="#0e0d0d" opacity="0.8"/>
<ellipse cx="915" cy="350" rx="7" ry="26" fill="#4a4543" opacity="0.55"/>
</g></g>
<g filter="url(#soft)"><path d="M1086.0 198.5C1080.2 197.1 1075.7 200.6 1071.0 202.0C1066.3 203.4 1063.3 203.9 1057.7 207.0C1052.1 210.1 1042.6 214.0 1037.2 220.8C1031.8 227.6 1028.0 237.8 1025.2 248.0C1022.4 258.2 1020.9 270.8 1020.3 282.0C1019.7 293.2 1020.0 303.7 1021.5 315.0C1023.0 326.3 1026.9 338.9 1029.5 350.0C1032.1 361.1 1034.6 372.7 1037.2 381.4C1039.8 390.1 1042.4 396.1 1045.0 402.0C1047.6 407.9 1049.8 413.3 1053.0 416.5C1056.2 419.7 1059.7 420.8 1064.0 421.0C1068.3 421.2 1073.5 420.2 1079.0 417.5C1084.5 414.8 1091.5 410.2 1097.2 404.8C1102.9 399.4 1108.5 392.8 1113.3 384.8C1118.1 376.8 1122.2 366.4 1126.0 356.7C1129.8 347.0 1134.0 337.4 1136.3 326.7C1138.6 316.0 1140.2 303.9 1139.7 292.5C1139.2 281.1 1136.4 268.6 1133.0 258.4C1129.6 248.1 1123.8 239.0 1119.2 231.0C1114.6 223.0 1111.1 215.9 1105.6 210.5C1100.1 205.1 1091.8 199.9 1086.0 198.5Z" fill="url(#gHFD)"/></g>
<g clip-path="url(#cHFD)">
<rect x="1016" y="194" width="127" height="230" filter="url(#fur)" opacity="0.85"/>
<g filter="url(#soft5)">
<ellipse cx="1090" cy="335" rx="21" ry="62" fill="#0f0e0e" opacity="0.85" transform="rotate(6 1090 335)"/>
<ellipse cx="1075" cy="250" rx="10" ry="30" fill="#141313" opacity="0.75"/>
<ellipse cx="1060" cy="408" rx="18" ry="12" fill="#0f0e0e" opacity="0.85"/>
<ellipse cx="1043" cy="368" rx="10" ry="12" fill="#6a6360" opacity="0.7"/>
<ellipse cx="1040" cy="290" rx="12" ry="40" fill="#5a5552" opacity="0.45"/>
</g></g>
<g filter="url(#soft)"><path d="M1256.0 220.0C1251.3 219.3 1248.4 222.2 1245.0 223.5C1241.6 224.8 1240.4 224.1 1235.4 227.6C1230.4 231.1 1220.1 237.9 1215.0 244.7C1209.9 251.5 1207.3 258.9 1204.7 268.6C1202.1 278.3 1201.2 291.4 1199.5 302.8C1197.8 314.2 1195.5 326.2 1194.4 337.0C1193.3 347.8 1191.7 358.6 1192.7 367.7C1193.7 376.8 1196.5 384.3 1200.5 391.6C1204.5 398.9 1211.4 405.6 1217.0 411.5C1222.6 417.4 1229.5 423.1 1234.0 427.0C1238.5 430.9 1241.1 434.0 1244.0 435.0C1246.9 436.0 1249.1 435.8 1251.5 433.0C1253.9 430.2 1255.5 425.5 1258.5 418.0C1261.5 410.5 1266.6 397.1 1269.6 388.2C1272.6 379.2 1273.6 373.4 1276.4 364.3C1279.2 355.2 1283.6 344.3 1286.7 333.5C1289.8 322.7 1292.9 310.2 1295.2 299.4C1297.5 288.6 1300.7 277.7 1300.4 268.6C1300.1 259.5 1298.1 251.5 1293.5 244.7C1288.9 237.9 1279.2 231.7 1273.0 227.6C1266.8 223.5 1260.7 220.7 1256.0 220.0Z" fill="url(#gF2)"/></g>
<g clip-path="url(#cF2)">
<rect x="1189" y="216" width="116" height="223" filter="url(#fur)" opacity="0.85"/>
<g filter="url(#soft5)">
<ellipse cx="1238" cy="378" rx="27" ry="50" fill="#0f0e0e" opacity="0.85" transform="rotate(-10 1238 378)"/>
<ellipse cx="1262" cy="260" rx="22" ry="26" fill="#625d59" opacity="0.55"/>
<ellipse cx="1222" cy="280" rx="10" ry="30" fill="#1a1818" opacity="0.5"/>
</g></g>
<g filter="url(#soft)">
<ellipse cx="937.7" cy="382.6" rx="10.3" ry="9.6" fill="#a89a93"/><ellipse cx="938.5" cy="384" rx="5.6" ry="4.8" fill="#5a4f4b"/><ellipse cx="935.3" cy="380.3" rx="3.6" ry="2.8" fill="#c4b8b1"/>
<ellipse cx="1063.8" cy="388" rx="13.2" ry="9" fill="#b9aca6" transform="rotate(20 1063.8 388)"/><ellipse cx="1067" cy="391.5" rx="5" ry="3" fill="#8d807a" transform="rotate(20 1067 391.5)"/><ellipse cx="1072.5" cy="371.5" rx="4" ry="4.5" fill="#8f8681" opacity="0.8"/>
<path d="M1101 392L1108 388L1119 394L1114 402L1102 403Z" fill="#bdb0a9" stroke="#bdb0a9" stroke-width="3" stroke-linejoin="round"/>
<ellipse cx="1050" cy="357" rx="9" ry="6" fill="none" stroke="#7d7571" stroke-width="2" opacity="0.45"/>
<ellipse cx="1241.2" cy="388.5" rx="11.8" ry="11" fill="#bdb0a9"/><ellipse cx="1243.5" cy="391.5" rx="4.6" ry="4.2" fill="#8f827c"/>
</g>
<text x="929.1" y="107.7" font-size="31.5" fill="#111" textLength="38.7" lengthAdjust="spacingAndGlyphs">LD</text>
<text x="1056" y="107.7" font-size="31.5" fill="#111" textLength="62" lengthAdjust="spacingAndGlyphs">HFD</text>
<text x="1179.2" y="107.7" font-size="31.5" fill="#111" textLength="132.7" lengthAdjust="spacingAndGlyphs">HFD + F2</text>
</g>
<g id="panelC">
<path d="M142.4 639.5H650V914.9H142.4M151 639.5V914.9" fill="none" stroke="#bfbfbf" stroke-width="1.4"/>
<text transform="translate(129.2 924.1) scale(0.9 1)" font-size="26" fill="#595959" text-anchor="end" textLength="29.3" lengthAdjust="spacing">25</text>
<text transform="translate(129.2 878.2) scale(0.9 1)" font-size="26" fill="#595959" text-anchor="end" textLength="29.3" lengthAdjust="spacing">30</text>
<text transform="translate(129.2 833.9) scale(0.9 1)" font-size="26" fill="#595959" text-anchor="end" textLength="29.3" lengthAdjust="spacing">35</text>
<text transform="translate(129.2 787.0) scale(0.9 1)" font-size="26" fill="#595959" text-anchor="end" textLength="29.3" lengthAdjust="spacing">40</text>
<text transform="translate(129.2 741.1) scale(0.9 1)" font-size="26" fill="#595959" text-anchor="end" textLength="29.3" lengthAdjust="spacing">45</text>
<text transform="translate(129.2 695.2) scale(0.9 1)" font-size="26" fill="#595959" text-anchor="end" textLength="29.3" lengthAdjust="spacing">50</text>
<text transform="translate(129.2 649.3) scale(0.9 1)" font-size="26" fill="#595959" text-anchor="end" textLength="29.3" lengthAdjust="spacing">55</text>
<path d="M142.4 914.9H151M142.4 869.0H151M142.4 824.7H151M142.4 777.2H151M142.4 731.3H151M142.4 685.4H151M142.4 639.5H151" fill="none" stroke="#bfbfbf" stroke-width="1.4"/>
<path d="M234.8 868.8V850.6M228.6 850.6h12.4" fill="none" stroke="#404040" stroke-width="1.6"/>
<rect x="208.2" y="869.8" width="53.2" height="45.1" fill="url(#pX)"/>
<path d="M208.2 914.9V869.8H261.4V914.9" fill="none" stroke="#000" stroke-width="2.1"/>
<path d="M400.3 682.3V656.7M394.1 656.7h12.4" fill="none" stroke="#404040" stroke-width="1.6"/>
<rect x="375.3" y="683.3" width="51.0" height="231.6" fill="url(#pG)"/>
<path d="M375.3 914.9V683.3H426.3V914.9" fill="none" stroke="#000" stroke-width="2.1"/>
<path d="M566.5 781.5V755.3M560.3 755.3h12.4" fill="none" stroke="#404040" stroke-width="1.6"/>
<rect x="540" y="782.5" width="52.8" height="132.4" fill="url(#pD)"/>
<path d="M540 914.9V782.5H592.8V914.9" fill="none" stroke="#000" stroke-width="2.1"/>
<text transform="translate(77.5,772.5) rotate(-90)" font-size="26" fill="#1a1a1a" text-anchor="middle" textLength="113.5" lengthAdjust="spacingAndGlyphs">Weight (g)</text>
<text transform="translate(233.3 951.6) scale(0.9 1)" font-size="26" fill="#595959" text-anchor="middle" textLength="35.3" lengthAdjust="spacing">LD</text>
<text transform="translate(400.3 951.6) scale(0.9 1)" font-size="26" fill="#595959" text-anchor="middle" textLength="58.7" lengthAdjust="spacing">HFD</text>
<text transform="translate(565.6 951.6) scale(0.9 1)" font-size="26" fill="#595959" text-anchor="middle" textLength="123.9" lengthAdjust="spacing">HFD + F2</text>
<text x="398.8" y="657" font-size="21" fill="#111" stroke="#111" stroke-width="0.9" style="font-family:'DejaVu Sans',sans-serif;font-weight:bold" text-anchor="middle">*</text>
<text x="554.1" y="740.5" font-size="21" fill="#111" stroke="#111" stroke-width="0.9" style="font-family:'DejaVu Sans',sans-serif;font-weight:bold" text-anchor="middle">*</text>
<text x="584.4 599.6" y="740.5" font-size="21" fill="#111" stroke="#111" stroke-width="0.9" style="font-family:'DejaVu Sans',sans-serif;font-weight:bold" text-anchor="middle">**</text>
<text x="565.0" y="746.2" font-size="26" fill="#222" font-style="italic" font-weight="bold" text-anchor="middle">,</text>
</g>
<g id="panelD">
<path d="M822.6 637.5H1323.1V914.9H822.6M831.2 637.5V914.9" fill="none" stroke="#bfbfbf" stroke-width="1.4"/>
<text transform="translate(806.9000000000001 924.1) scale(0.9 1)" font-size="26" fill="#595959" text-anchor="end" textLength="35.1" lengthAdjust="spacing">0.0</text>
<text transform="translate(806.9000000000001 854.8) scale(0.9 1)" font-size="26" fill="#595959" text-anchor="end" textLength="35.1" lengthAdjust="spacing">0.5</text>
<text transform="translate(806.9000000000001 785.4) scale(0.9 1)" font-size="26" fill="#595959" text-anchor="end" textLength="35.1" lengthAdjust="spacing">1.0</text>
<text transform="translate(806.9000000000001 714.5) scale(0.9 1)" font-size="26" fill="#595959" text-anchor="end" textLength="35.1" lengthAdjust="spacing">1.5</text>
<text transform="translate(806.9000000000001 646.3) scale(0.9 1)" font-size="26" fill="#595959" text-anchor="end" textLength="35.1" lengthAdjust="spacing">2.0</text>
<path d="M822.6 914.9H831.2M822.6 845.5H831.2M822.6 776.2H831.2M822.6 707.9H831.2M822.6 637.5H831.2" fill="none" stroke="#bfbfbf" stroke-width="1.4"/>
<path d="M913.4 872.4V865.3M907.2 865.3h12.4" fill="none" stroke="#404040" stroke-width="1.6"/>
<rect x="888.8" y="873.4" width="51.2" height="41.5" fill="url(#pX2)"/>
<path d="M888.8 914.9V873.4H940.0V914.9" fill="none" stroke="#000" stroke-width="2.1"/>
<path d="M1076.8 684V656.8M1070.6 656.8h12.4" fill="none" stroke="#404040" stroke-width="1.6"/>
<rect x="1052.1" y="685" width="51.4" height="229.9" fill="url(#pK)"/>
<path d="M1052.1 914.9V685H1103.5V914.9" fill="none" stroke="#000" stroke-width="2.1"/>
<path d="M1241.5 791.3V778.2M1235.3 778.2h12.4" fill="none" stroke="#404040" stroke-width="1.6"/>
<rect x="1215" y="792.3" width="50.8" height="122.6" fill="url(#pDk)"/>
<path d="M1215 914.9V792.3H1265.8V914.9" fill="none" stroke="#000" stroke-width="2.1"/>
<text transform="translate(755.6,781.4) rotate(-90)" font-size="26" fill="#1a1a1a" text-anchor="middle" textLength="193" lengthAdjust="spacingAndGlyphs">Weight gain (g/w)</text>
<text transform="translate(912.4 951.6) scale(0.9 1)" font-size="26" fill="#595959" text-anchor="middle" textLength="35.6" lengthAdjust="spacing">LD</text>
<text transform="translate(1076.9 951.6) scale(0.9 1)" font-size="26" fill="#595959" text-anchor="middle" textLength="58.2" lengthAdjust="spacing">HFD</text>
<text transform="translate(1240.8 951.6) scale(0.9 1)" font-size="26" fill="#595959" text-anchor="middle" textLength="125.0" lengthAdjust="spacing">HFD + F2</text>
<text x="1075.5" y="655" font-size="21" fill="#111" stroke="#111" stroke-width="0.9" style="font-family:'DejaVu Sans',sans-serif;font-weight:bold" text-anchor="middle">*</text>
<text x="1227.2" y="759.3" font-size="21" fill="#111" stroke="#111" stroke-width="0.9" style="font-family:'DejaVu Sans',sans-serif;font-weight:bold" text-anchor="middle">*</text>
<text x="1257.6 1272.8" y="759.3" font-size="21" fill="#111" stroke="#111" stroke-width="0.9" style="font-family:'DejaVu Sans',sans-serif;font-weight:bold" text-anchor="middle">**</text>
<text x="1238.6" y="766.3" font-size="26" fill="#222" font-style="italic" font-weight="bold" text-anchor="middle">,</text>
</g>
</svg></body></html>
